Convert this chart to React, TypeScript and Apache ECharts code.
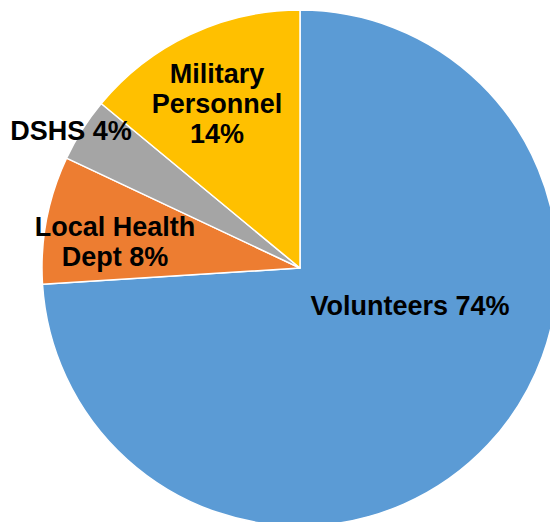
import React, { useEffect, useRef } from "react";
import * as echarts from "echarts";

const categories = ["Volunteers", "Local Health Dept", "DSHS", "Military Personnel"];
const values = [74, 8, 4, 14];
const labelTexts = ["Volunteers 74%", "Local Health\nDept 8%", "DSHS 4%", "Military\nPersonnel\n14%"];
const colors = ["#5B9BD5", "#ED7D31", "#A5A5A5", "#FFC000"];
const labelPos = [
  [410, 306],
  [115, 242],
  [71, 131],
  [217, 104],
];

export default function App() {
  const ref = useRef<HTMLDivElement>(null);
  useEffect(() => {
    if (!ref.current) return;
    const chart = echarts.init(ref.current, null, { renderer: "svg" });
    chart.setOption({
      animation: false,
      backgroundColor: "#ffffff",
      series: [
        {
          type: "pie",
          center: [300, 268],
          radius: [0, 258],
          startAngle: 90,
          clockwise: true,
          avoidLabelOverlap: false,
          itemStyle: { borderColor: "#ffffff", borderWidth: 1.5 },
          label: {
            show: true,
            position: "inside",
            color: "#000000",
            fontFamily: "'Liberation Sans', Arial, sans-serif",
            fontWeight: "bold",
            fontSize: 27,
            lineHeight: 30,
            align: "center",
            formatter: (p: any) => labelTexts[p.dataIndex],
          },
          labelLine: { show: false },
          labelLayout: (p: any) => ({
            x: labelPos[p.dataIndex][0],
            y: labelPos[p.dataIndex][1],
            align: "center",
            verticalAlign: "middle",
          }),
          emphasis: { disabled: true },
          data: categories.map((c, i) => ({
            name: c,
            value: values[i],
            itemStyle: { color: colors[i] },
          })),
        },
      ],
    });
    return () => chart.dispose();
  }, []);
  return (
    <div
      ref={ref}
      style={{ position: "fixed", left: 0, top: 0, width: 550, height: 522 }}
    />
  );
}
